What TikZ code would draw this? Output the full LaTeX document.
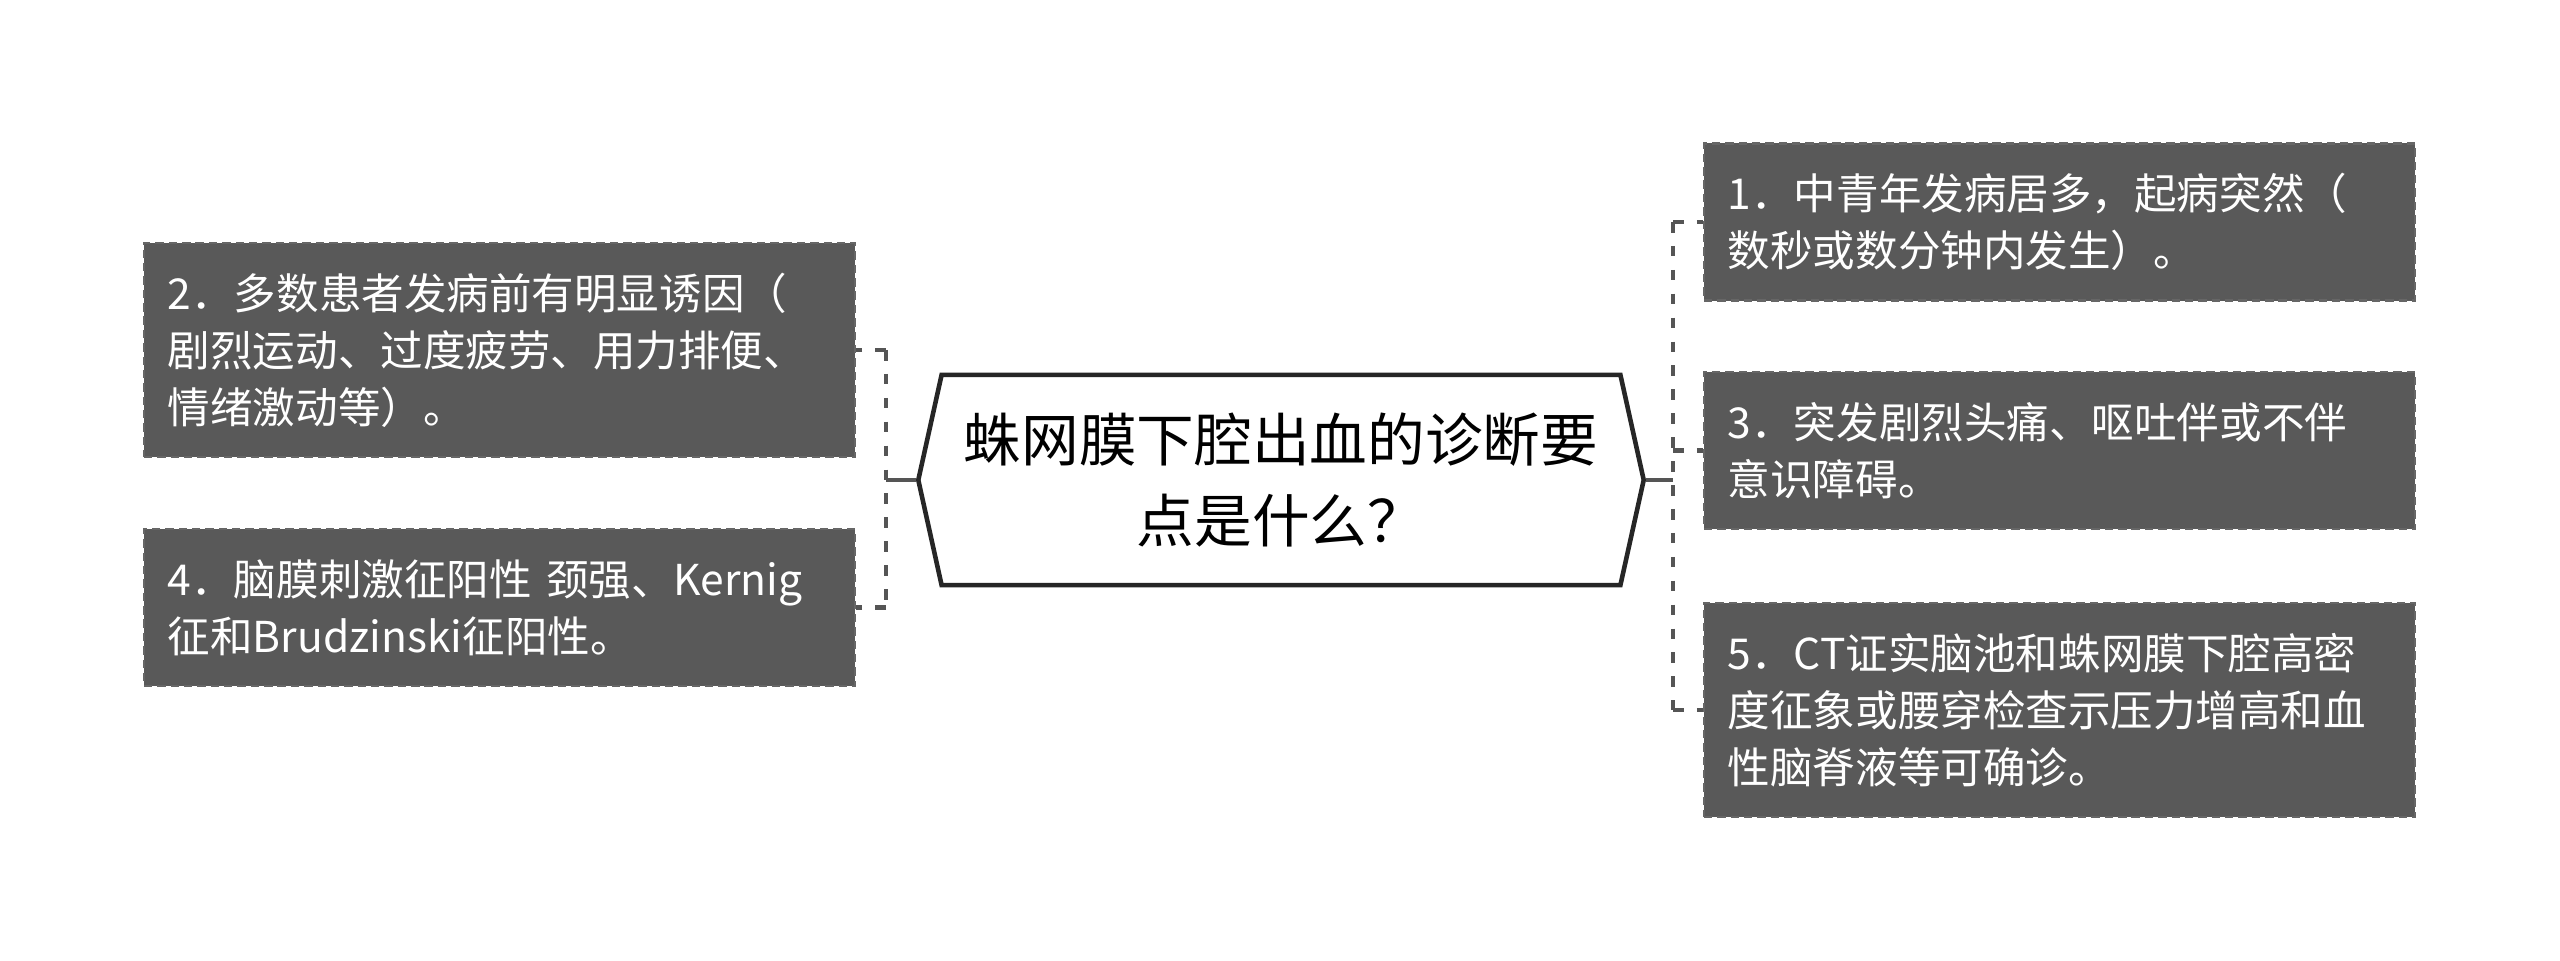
\documentclass[tikz,border=0pt]{standalone}
\usepackage{fontspec}
\newfontfamily\cjk{Noto Sans CJK SC}
\usetikzlibrary{shapes.symbols}
\definecolor{boxgrey}{HTML}{595959}
\definecolor{linegrey}{HTML}{555555}

\begin{document}
\begin{tikzpicture}[x=0.01cm,y=0.01cm,
  topic/.style={draw=black!85, line width=1.3pt, fill=white, signal, signal to=west and east,
    signal pointer angle=155, minimum width=7.25cm, minimum height=2.1cm, align=center,
    inner sep=0pt, font=\cjk\fontsize{16.4}{22.8}\selectfont},
  point/.style={draw=gray!80!black, line width=0.7pt, dash pattern=on 2.4pt off 1.4pt,
    fill=boxgrey, text=white, align=left, text width=6.63cm, inner xsep=0.24cm,
    inner ysep=0pt, font=\cjk\fontsize{12.1}{16.2}\selectfont},
  link/.style={draw=linegrey, line width=1.25pt},
  branch/.style={link, dash pattern=on 3pt off 3.8pt}]
\useasboundingbox (0,0) rectangle (2560,960);

% centre topic
\node[topic] (topic) at (1281,480) {蛛网膜下腔出血的诊断要\\点是什么？};

% left side
\node[point, minimum height=2.14cm] (p2) at (499.5,610)
  {2．多数患者发病前有明显诱因（\\剧烈运动、过度疲劳、用力排便、\\情绪激动等）。};
\node[point, minimum height=1.57cm] (p4) at (499.5,352.5)
  {4．脑膜刺激征阳性 颈强、Kernig\\征和Brudzinski征阳性。};

% right side
\node[point, minimum height=1.57cm] (p1) at (2059.5,738)
  {1．中青年发病居多，起病突然（\\数秒或数分钟内发生）。};
\node[point, minimum height=1.57cm] (p3) at (2059.5,509.5)
  {3．突发剧烈头痛、呕吐伴或不伴\\意识障碍。};
\node[point, minimum height=2.14cm] (p5) at (2059.5,250)
  {5．CT证实脑池和蛛网膜下腔高密\\度征象或腰穿检查示压力增高和血\\性脑脊液等可确诊。};

% connectors
\coordinate (lfork) at (886,480);
\coordinate (rfork) at (1673,480);
\draw[link] (topic.west) -- (lfork);
\draw[link] (topic.east) -- (rfork);
\draw[branch] (lfork |- p2.east) -- (lfork |- p4.east);
\draw[branch] (lfork |- p2.east) -- (p2.east);
\draw[branch] (lfork |- p4.east) -- (p4.east);
\draw[branch] (rfork |- p1.west) -- (rfork |- p5.west);
\draw[branch] (rfork |- p1.west) -- (p1.west);
\draw[branch] (rfork |- p3.west) -- (p3.west);
\draw[branch] (rfork |- p5.west) -- (p5.west);
\end{tikzpicture}
\end{document}
